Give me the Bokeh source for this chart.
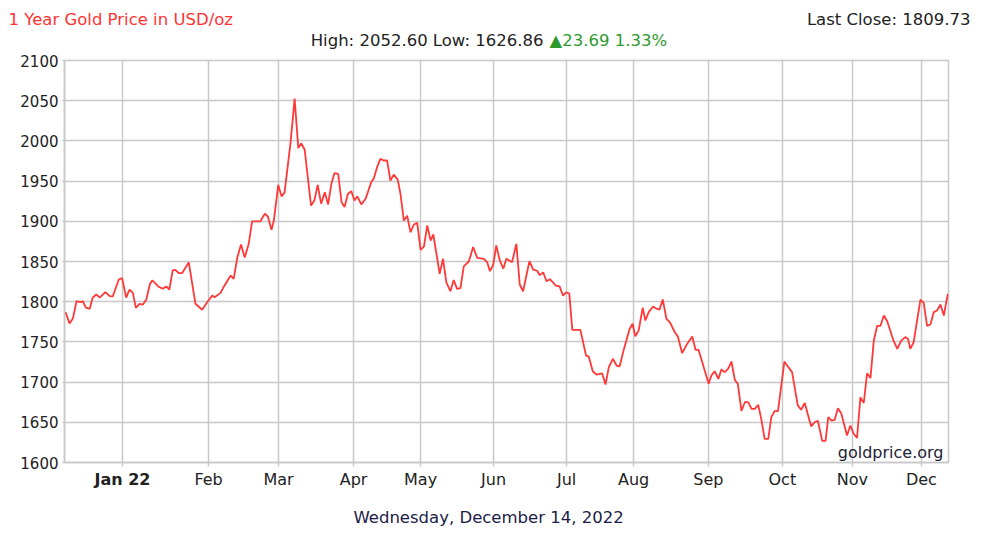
from bokeh.plotting import figure
from bokeh.models import Label, FixedTicker
from bokeh.layouts import column, row
from bokeh.embed import file_html
from bokeh.resources import INLINE

# ---- data (x = trading-day index from the left edge of the window) ----
day_index = [0.3, 1.5, 2.5, 3.6, 4.8, 5.5, 6.3, 7.5, 8.4, 9.5, 10.5, 12.2, 13.5, 14.4, 16.2, 17.2,
             18.4, 19.4, 20.4, 21.3, 22.4, 23.4, 24.4, 25.5, 26.2, 28.0, 29.3, 30.4, 31.3, 32.3,
             33.1, 34.1, 35.1, 37.1, 39.1, 41.1, 42.6, 44.1, 44.8, 46.6, 47.6, 49.6, 50.5, 51.6,
             52.7, 53.8, 55.0, 56.0, 58.5, 59.8, 60.7, 61.8, 62.5, 63.8, 64.8, 65.7, 67.5, 68.7,
             69.8, 70.7, 71.7, 73.6, 74.6, 75.6, 76.6, 77.7, 78.7, 79.7, 80.6, 81.7, 82.7, 83.6,
             84.6, 85.6, 86.6, 87.4, 88.6, 89.9, 91.6, 92.3, 93.3, 94.3, 95.3, 96.3, 97.3, 98.3,
             99.5, 100.3, 101.3, 102.3, 103.3, 104.3, 105.3, 106.3, 107.3, 108.3, 109.3, 110.1,
             112.0, 113.0, 114.0, 115.2, 116.2, 117.2, 118.2, 119.2, 120.7, 122.0, 123.2, 125.2,
             126.2, 127.0, 128.0, 128.9, 129.9, 131.0, 131.9, 133.6, 134.9, 135.9, 136.9, 138.8,
             139.9, 141.1, 141.9, 142.9, 143.9, 144.9, 146.7, 147.8, 148.8, 149.8, 150.7, 151.6,
             154.0, 155.7, 156.5, 157.7, 158.8, 160.5, 161.5, 162.5, 163.7, 164.8, 165.7, 167.0,
             168.7, 169.6, 170.4, 171.4, 172.6, 173.4, 174.4, 175.7, 176.9, 177.6, 178.6, 179.7,
             180.7, 182.2, 183.1, 184.4, 185.7, 187.4, 188.4, 189.3, 192.3, 193.1, 194.1, 195.2,
             196.1, 197.1, 198.1, 199.1, 200.1, 201.0, 202.1, 203.1, 204.1, 205.1, 206.1, 207.1,
             208.0, 209.0, 210.1, 211.0, 212.0, 213.0, 214.9, 215.9, 217.2, 218.9, 219.9, 221.0,
             221.9, 222.9, 223.9, 224.9, 226.2, 227.2, 228.0, 229.0, 229.9, 230.9, 231.9, 233.6,
             234.6, 235.6, 236.6, 237.6, 238.6, 239.6, 240.6, 241.6, 242.6, 243.6, 244.6, 245.6,
             247.4, 248.6, 249.8, 251.0, 251.8, 252.5, 253.5, 255.5, 256.5, 257.5, 258.5, 259.5,
             260.5, 261.5, 262.5, 263.7]

price = [1787, 1773, 1779, 1800.6, 1799.4, 1800.6, 1793, 1791, 1805, 1809, 1805, 1812, 1807, 1806.5,
         1827.6, 1829.3, 1805, 1815, 1811, 1792.4, 1797.4, 1796.5, 1802.4, 1822, 1826.4, 1819, 1816,
         1819, 1815, 1839, 1839.7, 1835.5, 1835.5, 1849, 1797.4, 1790, 1799.4, 1807.7, 1805.6, 1811,
         1819, 1832.6, 1828.5, 1855, 1871, 1855, 1872, 1900, 1900, 1909.5, 1906, 1889.5, 1901, 1945.4,
         1931, 1936, 1998.4, 2052.6, 1991, 1997, 1989, 1919.6, 1926, 1945.4, 1922, 1936, 1921, 1947.4,
         1960, 1959, 1924, 1917.6, 1934, 1937.5, 1926, 1931, 1921, 1928, 1949, 1953, 1967, 1977.7,
         1975.6, 1975.6, 1950.7, 1958, 1951.6, 1934, 1901, 1907, 1886.4, 1896, 1898, 1864.5, 1868.6,
         1894.8, 1876, 1883.6, 1834.7, 1853.4, 1824, 1813, 1827, 1816, 1817, 1843.8, 1850, 1868,
         1854.6, 1853.4, 1849, 1838, 1846, 1870, 1852, 1841, 1853.4, 1849, 1872, 1821.4, 1813, 1850.4,
         1840, 1838.5, 1833, 1836.5, 1825.5, 1828, 1820, 1819, 1807.7, 1811.5, 1810, 1765, 1765, 1733,
         1731.8, 1713.5, 1709.4, 1711, 1697, 1718.6, 1729, 1720.6, 1719.4, 1741, 1766, 1772.5, 1757,
         1764, 1792.4, 1776.6, 1787, 1794, 1791, 1790, 1802.7, 1778.7, 1774.5, 1762, 1756.7, 1736,
         1746.4, 1756.7, 1740, 1740, 1698, 1708, 1713.5, 1704, 1715.7, 1712.4, 1716.5, 1725.6, 1702.8,
         1698, 1664, 1675, 1675, 1666.7, 1666.7, 1671.7, 1654.3, 1629.4, 1629.4, 1656.4, 1664, 1664,
         1725.6, 1719.8, 1712.4, 1671, 1665.6, 1674, 1660, 1645, 1650, 1652, 1626.9, 1626.9, 1656.4,
         1652, 1653, 1667.5, 1661, 1633.6, 1646, 1635.7, 1630.7, 1681, 1674, 1711, 1705, 1751.5, 1770,
         1770, 1782.8, 1775.7, 1752.6, 1741.4, 1751.5, 1756, 1753.8, 1741.4, 1749.6, 1802.4, 1798.6,
         1770, 1771.6, 1787, 1789, 1796.5, 1782.8, 1809.73]

month_pos = [17.3, 43.0, 63.9, 86.3, 106.3, 128.1, 149.9, 169.9, 192.2, 214.3, 235.2, 255.8]
month_labels = ["Jan 22", "Feb", "Mar", "Apr", "May", "Jun", "Jul", "Aug", "Sep", "Oct", "Nov", "Dec"]
y_ticks = [1600, 1650, 1700, 1750, 1800, 1850, 1900, 1950, 2000, 2050, 2100]

title_text = "1 Year Gold Price in USD/oz"
high_low_text = "High: 2052.60 Low: 1626.86"
change_text = "\u25b223.69 1.33%"
last_close_text = "Last Close: 1809.73"
date_text = "Wednesday, December 14, 2022"
source_text = "goldprice.org"

FONT = "DejaVu Sans"
GRID = "#c8c8c8"
W = 984
BL, BR = 64, 36   # chart frame borders (left/right)


def blank(fig):
    fig.background_fill_color = "white"
    fig.border_fill_color = "white"
    fig.outline_line_color = None
    return fig


def lab(fig, x, y, text, color, size="16.5px", align="left", baseline="middle", style="normal"):
    fig.add_layout(Label(x=x, y=y, text=text, text_color=color, text_font=FONT,
                         text_font_size=size, text_align=align, text_baseline=baseline,
                         text_font_style=style))


# ---- header (title row + high/low row) ----
header = blank(figure(width=W, height=50, x_range=(0, W), y_range=(0, 50),
                      x_axis_type=None, y_axis_type=None,
                      output_backend="svg", toolbar_location=None,
                      min_border_left=0, min_border_right=0, min_border_top=0, min_border_bottom=0))
lab(header, 8, 31, title_text, "#ff3333")
lab(header, 970, 31, last_close_text, "#222222", align="right")
lab(header, 543, 10, high_low_text, "#222222", align="right")
lab(header, 549, 10, change_text, "#2e9a2e")

# ---- main chart ----
p = figure(width=W, height=421, x_range=(0, 263.9), y_range=(1600, 2100),
           output_backend="svg", toolbar_location=None,
           min_border_left=BL, min_border_right=BR, min_border_top=10, min_border_bottom=9)
p.background_fill_color = "white"
p.border_fill_color = "white"
p.outline_line_color = GRID
p.outline_line_width = 1.5

p.line(day_index, price, line_color="#ff3838", line_width=1.8)

# x axis: tick stubs only (labels are drawn in the footer so "Jan 22" can be bold)
p.xaxis.ticker = FixedTicker(ticks=month_pos)
p.xaxis.major_label_text_color = None
p.xaxis.major_label_text_font_size = "1px"
p.xaxis.major_label_standoff = 0
p.yaxis.ticker = FixedTicker(ticks=y_ticks)
for ax in (p.xaxis[0], p.yaxis[0]):
    ax.axis_line_color = GRID
    ax.axis_line_width = 1.5
    ax.major_tick_line_color = GRID
    ax.major_tick_line_width = 1.5
    ax.minor_tick_line_color = None
    ax.major_tick_in = 0
p.xaxis.major_tick_out = 4
p.yaxis.major_tick_out = 2
p.yaxis.major_label_standoff = 4
p.yaxis.major_label_text_font = FONT
p.yaxis.major_label_text_font_size = "15px"
p.yaxis.major_label_text_color = "#222222"

p.xgrid.ticker = FixedTicker(ticks=month_pos)
p.ygrid.ticker = FixedTicker(ticks=y_ticks)
for g in (p.xgrid[0], p.ygrid[0]):
    g.grid_line_color = GRID
    g.grid_line_width = 1.5

lab(p, 262.4, 1612.4, source_text, "#222233", size="16px", align="right")

# ---- footer (month labels on the chart's x scale, and the date) ----
FH = 61
footer = blank(figure(width=W, height=FH, x_range=p.x_range, y_range=(0, FH),
                      x_axis_type=None, y_axis_type=None,
                      output_backend="svg", toolbar_location=None,
                      min_border_left=BL, min_border_right=BR, min_border_top=0, min_border_bottom=0))
for i, (pos, name) in enumerate(zip(month_pos, month_labels)):
    lab(footer, pos, FH - 8, name, "#222222", size="16px", align="center",
        style="bold" if i == 0 else "normal")
lab(footer, 126.6, FH - 46, date_text, "#1c1c48", align="center")

layout = column(row(header), p, footer, spacing=0)
open("out.html", "w").write(file_html(layout, INLINE))
